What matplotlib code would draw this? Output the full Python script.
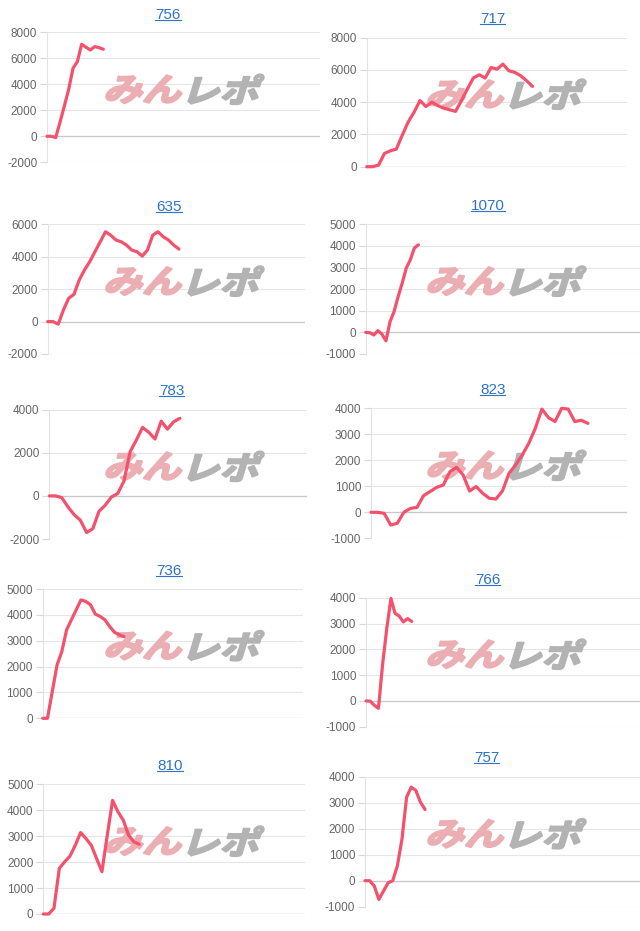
#!/usr/bin/env python3

import matplotlib
matplotlib.use("Agg")
import matplotlib.pyplot as plt
from matplotlib.font_manager import FontProperties
from matplotlib.lines import Line2D
from matplotlib.patches import PathPatch
from matplotlib.textpath import TextPath
from matplotlib.transforms import Affine2D, IdentityTransform

W, H = 640, 931

titles = ["756", "717", "635", "1070", "783", "823", "736", "766", "810", "757"]

v756 = [0, 0, -100, 1080, 2330, 3600, 5230, 5740, 7080, 6850, 6640, 6900, 6820, 6700]
v717 = [0, 0, 100, 820, 985, 1090, 1950, 2770, 3380, 4100, 3730, 4000, 3790, 3630,
        3530, 3430, 4100, 4820, 5500, 5700, 5500, 6150, 6050, 6360, 5950, 5850, 5640,
        5330, 4980]
v635 = [0, 0, -160, 720, 1440, 1680, 2560, 3180, 3690, 4310, 4920, 5540, 5330, 5030,
        4920, 4720, 4410, 4310, 4040, 4410, 5330, 5540, 5230, 5030, 4720, 4470]
v1070 = [0, -15, -120, 80, -80, -390, 490, 960, 1650, 2270, 2970, 3350, 3900, 4050]
v783 = [0, 0, -80, -510, -870, -1130, -1700, -1520, -710, -430, -50, 110, 680, 2050,
        2590, 3180, 2950, 2640, 3470, 3100, 3440, 3600]
v823 = [0, 0, -40, -490, -420, 0, 150, 190, 640, 800, 960, 1050, 1560, 1730, 1440,
        820, 990, 730, 540, 510, 820, 1500, 1820, 2200, 2650, 3230, 3970, 3640, 3490,
        4000, 3970, 3490, 3540, 3420]
v736 = [0, 0, 1030, 2060, 2580, 3420, 3810, 4190, 4580, 4520, 4390, 4030, 3940, 3810,
        3550, 3330, 3230, 3160]
v766 = [0, -10, -170, -290, 1420, 2800, 3970, 3390, 3290, 3060, 3190, 3080]
v810 = [0, 0, 220, 1760, 2010, 2230, 2650, 3140, 2910, 2650, 2140, 1630, 3040, 4380,
        3940, 3620, 3040, 2780, 2690]
v757 = [0, 0, -200, -720, -400, -80, 0, 570, 1600, 3210, 3600, 3470, 3020, 2740]

series = [v756, v717, v635, v1070, v783, v823, v736, v766, v810, v757]

# y axis: (min, max, step)
y_ticks = [(-2000, 8000, 2000), (0, 8000, 2000), (-2000, 6000, 2000), (-1000, 5000, 1000),
           (-2000, 4000, 2000), (-1000, 4000, 1000), (0, 5000, 1000), (-1000, 4000, 1000),
           (0, 5000, 1000), (-1000, 4000, 1000)]

# plot boxes in pixels: left, right, top, bottom
boxes = [(47, 320, 32.3, 162.3), (366.7, 626.7, 37.7, 166.7),
         (47.7, 305, 224.3, 354), (365.7, 640, 224.3, 354),
         (49.3, 306.7, 409.7, 539), (371, 626.7, 408.3, 538.3),
         (42.7, 303.3, 589, 718.3), (366, 640, 597.7, 726.7),
         (43.3, 305, 784.3, 914), (365, 640, 776.7, 906.7)]
x_spans = [63, 43.9, 49, 67.7, 41.4, 38.9, 54.5, 66, 49.1, 59.5]
title_pos = [(168, 15), (492.7, 19.3), (169, 206.7), (487.7, 206), (171.7, 391),
             (492.7, 390), (169, 571), (487.7, 580), (170, 765.7), (486.7, 758.3)]

LINE = "#f4516c"
BLUE = "#2d74c9"
WM_FONT = FontProperties(family="Noto Sans CJK JP", weight="bold")

plt.rcParams["font.family"] = ["Liberation Sans", "DejaVu Sans"]
plt.rcParams["axes.unicode_minus"] = False

fig = plt.figure(figsize=(W / 100, H / 100), dpi=100)


def watermark(ax, text, cx, cy, color):
    path = TextPath((0, 0), text, size=1, prop=WM_FONT)
    path = Affine2D().skew_deg(14, 0).scale(39, 32).transform_path(path)
    ext = path.get_extents()
    path = Affine2D().translate(cx - (ext.x0 + ext.x1) / 2,
                                (H - cy) - (ext.y0 + ext.y1) / 2).transform_path(path)
    ax.add_patch(PathPatch(path, transform=IdentityTransform(), fc=color, ec=color,
                           lw=1.6, joinstyle="round", zorder=2, clip_on=False))


title_texts = []
for i, vals in enumerate(series):
    l, r, t, b = boxes[i]
    ax = fig.add_axes([l / W, 1 - b / H, (r - l) / W, (b - t) / H])
    lo, hi, st = y_ticks[i]
    ax.set_ylim(lo, hi)
    ax.set_yticks(range(lo, hi + 1, st))
    ax.set_xlim(0, x_spans[i])
    ax.set_xticks([])
    for s in ("top", "right", "bottom"):
        ax.spines[s].set_visible(False)
    ax.spines["left"].set_color("#e3e3e3")
    ax.spines["left"].set_linewidth(0.8)
    ax.grid(axis="y", color="#e6e6e6", lw=0.8)
    ax.set_axisbelow(True)
    ax.axhline(0, color="#c8c8c8", lw=0.9, zorder=1)
    ax.tick_params(axis="y", length=5, width=0.8, color="#d9d9d9", pad=2,
                   labelsize=8.5, labelcolor="#666666")

    cx = 185 if l < 320 else 507
    cy = (t + b) / 2 - 8
    watermark(ax, "みん", cx - 41, cy, "#eaaeb3")
    watermark(ax, "レポ", cx + 41, cy, "#b3b3b3")

    ax.plot(range(len(vals)), vals, color=LINE, lw=2.3, solid_joinstyle="round",
            solid_capstyle="round", zorder=3, clip_on=False)

    tx, ty = title_pos[i]
    title_texts.append(fig.text(tx / W, 1 - ty / H, titles[i], ha="center", va="center",
                                fontsize=11, color=BLUE))

# underline the titles like links
fig.canvas.draw()
renderer = fig.canvas.get_renderer()
for txt in title_texts:
    bb = txt.get_window_extent(renderer)
    fig.add_artist(Line2D([bb.x0, bb.x1], [bb.y0 + 2, bb.y0 + 2], color=BLUE, lw=0.8,
                          transform=IdentityTransform()))

fig.savefig("out.png", dpi=100)
